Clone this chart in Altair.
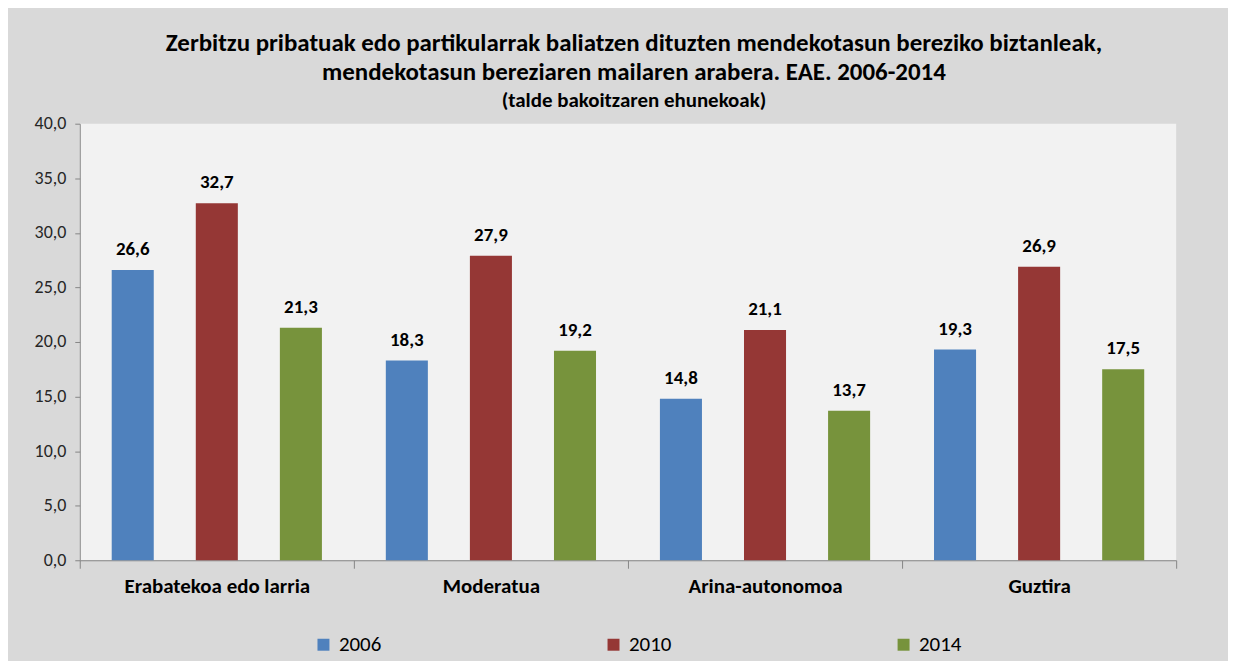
import altair as alt
import pandas as pd

categories = ["Erabatekoa edo larria", "Moderatua", "Arina-autonomoa", "Guztira"]
years = ["2006", "2010", "2014"]
v2006 = [26.6, 18.3, 14.8, 19.3]
v2010 = [32.7, 27.9, 21.1, 26.9]
v2014 = [21.3, 19.2, 13.7, 17.5]
colors = ["#4f81bd", "#953735", "#77933c"]

rows = []
for yr, vals in zip(years, [v2006, v2010, v2014]):
    for c, v in zip(categories, vals):
        rows.append({"cat": c, "year": yr, "value": v,
                     "label": f"{v:.1f}".replace(".", ",")})
df = pd.DataFrame(rows)

FONT = "Calibri, Carlito, Lato, sans-serif"

base = alt.Chart(df).encode(
    x=alt.X("cat:N", sort=categories, title=None,
            scale=alt.Scale(paddingInner=0, paddingOuter=0),
            axis=alt.Axis(labelAngle=0, labelFontSize=21, labelFontWeight="bold",
                          labelColor="#000", labelFont=FONT, tickBand="extent",
                          tickSize=8, tickColor="#868686", domainColor="#868686",
                          labelPadding=7, labelLimit=400)),
    xOffset=alt.XOffset("year:N", sort=years,
                        scale=alt.Scale(paddingInner=0.5, paddingOuter=0.38)),
)

bars = base.mark_bar().encode(
    y=alt.Y("value:Q", title=None,
            scale=alt.Scale(domain=[0, 40], nice=False),
            axis=alt.Axis(values=[0, 5, 10, 15, 20, 25, 30, 35, 40], grid=False,
                          labelExpr="replace(format(datum.value, '.1f'), '.', ',')",
                          labelFontSize=18, labelColor="#262626", labelFont=FONT,
                          tickSize=5, tickColor="#868686", domainColor="#868686",
                          labelPadding=9)),
    color=alt.Color("year:N", sort=years,
                    scale=alt.Scale(domain=years, range=colors),
                    legend=alt.Legend(title=None, orient="none", direction="horizontal",
                                      legendX=234, legendY=512, symbolType="square",
                                      symbolSize=144, symbolStrokeWidth=0,
                                      labelFontSize=21, labelFont=FONT, labelColor="#000",
                                      labelOffset=5, columnPadding=222)),
)

labels = base.mark_text(baseline="alphabetic", dy=-15, fontSize=19,
                        fontWeight="bold", font=FONT, color="#000").encode(
    y=alt.Y("value:Q"),
    text="label:N",
)

chart = alt.layer(bars, labels).properties(
    width=1100, height=438,
    autosize=alt.AutoSizeParams(type="none"),
    padding={"left": 72, "top": 115, "right": 52, "bottom": 100},
    title=alt.Title(
        text=["Zerbitzu pribatuak edo partikularrak baliatzen dituzten mendekotasun bereziko biztanleak,",
              "mendekotasun bereziaren mailaren arabera. EAE. 2006-2014"],
        subtitle="(talde bakoitzaren ehunekoak)",
        anchor="middle", dx=6, fontSize=25, fontWeight="bold", font=FONT, color="#000",
        lineHeight=29, subtitleFontSize=21, subtitleFontWeight="bold",
        subtitleFont=FONT, subtitleColor="#000", subtitlePadding=5, offset=4,
    ),
).configure(background="#d9d9d9").configure_view(fill="#f2f2f2", stroke=None)

chart.save("out.html", embed_options={"renderer": "svg", "actions": False})
